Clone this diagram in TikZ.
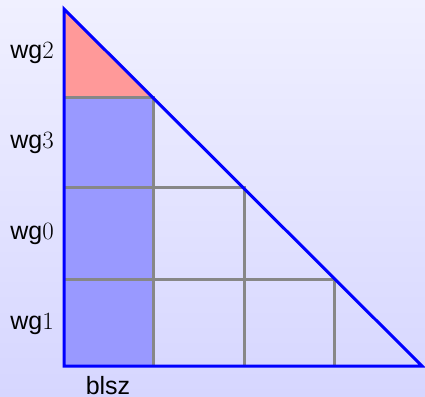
\documentclass[tikz,border=0pt]{standalone}
\usepackage{fontspec}
\setsansfont{Liberation Sans}
\begin{document}
\begin{tikzpicture}[x=1pt,y=1pt,
  gridline/.style={draw=black!47, line width=3pt},
  edge/.style={draw=blue, line width=3pt, line join=miter},
  lbl/.style={font=\sffamily\fontsize{25}{29}\selectfont, inner sep=0pt}]
\shade[top color={rgb,255:red,240;green,240;blue,255}, bottom color={rgb,255:red,214;green,214;blue,255}] (0,0) rectangle (425,396);
\useasboundingbox (0,0) rectangle (425,396);
\coordinate (A) at (64,387);
\coordinate (B) at (64,30);
\coordinate (C) at (422,30);
\coordinate (r1) at (64,298);
\coordinate (r2) at (64,208);
\coordinate (r3) at (64,116);
\coordinate (d1) at (153,298);
\coordinate (d2) at (244,208);
\coordinate (d3) at (334,116);
\coordinate (b1) at (153,30);
\coordinate (b2) at (244,30);
\coordinate (b3) at (334,30);
\fill[fill={rgb,255:red,255;green,153;blue,153}] (A) -- (r1) -- (d1) -- cycle;
\fill[fill={rgb,255:red,153;green,153;blue,255}] (r1) rectangle (b1);
\draw[gridline] (r1) -- (d1) -- (b1);
\draw[gridline] (r2) -- (d2) -- (b2);
\draw[gridline] (r3) -- (d3) -- (b3);
\draw[edge] (A) -- (B) -- (C) -- cycle;
\node[lbl, anchor=east] (wg2) at (54,343) {wg$2$};
\node[lbl, anchor=east] (wg3) at (54,253) {wg$3$};
\node[lbl, anchor=east] (wg0) at (54,162) {wg$0$};
\node[lbl, anchor=east] (wg1) at (54,72) {wg$1$};
\node[lbl, anchor=north] (blsz) at (108,20) {blsz};
\end{tikzpicture}
\end{document}
